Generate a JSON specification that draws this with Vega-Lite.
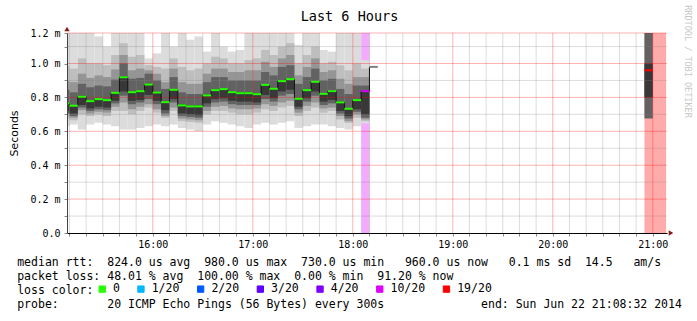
{
  "$schema": "https://vega.github.io/schema/vega-lite/v6.json",
  "width": 600,
  "height": 200,
  "autosize": "none",
  "padding": {"left": 67, "top": 33, "right": 30, "bottom": 88},
  "background": "white",
  "config": {"view": {"stroke": null}},
  "datasets": {
    "steps": [
      {"s":"2014-06-22T15:05:00Z","e":"2014-06-22T15:10:00Z","med":0.765,"loss":"0","lo1":0.63,"hi1":1.18,"lo2":0.675,"hi2":0.985,"lo3":0.70,"hi3":0.895,"lo4":0.705,"hi4":0.845,"lo5":0.72,"hi5":0.77},
      {"s":"2014-06-22T15:10:00Z","e":"2014-06-22T15:15:00Z","med":0.751,"loss":"0","lo1":0.64,"hi1":1.18,"lo2":0.665,"hi2":0.97,"lo3":0.68,"hi3":0.89,"lo4":0.69,"hi4":0.83,"lo5":0.705,"hi5":0.755},
      {"s":"2014-06-22T15:15:00Z","e":"2014-06-22T15:20:00Z","med":0.804,"loss":"0","lo1":0.61,"hi1":1.18,"lo2":0.70,"hi2":1.03,"lo3":0.725,"hi3":0.94,"lo4":0.74,"hi4":0.88,"lo5":0.755,"hi5":0.81},
      {"s":"2014-06-22T15:20:00Z","e":"2014-06-22T15:25:00Z","med":0.778,"loss":"0","lo1":0.64,"hi1":1.18,"lo2":0.69,"hi2":1.0,"lo3":0.705,"hi3":0.915,"lo4":0.72,"hi4":0.86,"lo5":0.735,"hi5":0.783},
      {"s":"2014-06-22T15:25:00Z","e":"2014-06-22T15:30:00Z","med":0.790,"loss":"0","lo1":0.65,"hi1":1.16,"lo2":0.70,"hi2":1.0,"lo3":0.715,"hi3":0.93,"lo4":0.73,"hi4":0.87,"lo5":0.745,"hi5":0.795},
      {"s":"2014-06-22T15:30:00Z","e":"2014-06-22T15:35:00Z","med":0.784,"loss":"0","lo1":0.64,"hi1":1.10,"lo2":0.69,"hi2":0.99,"lo3":0.71,"hi3":0.92,"lo4":0.725,"hi4":0.865,"lo5":0.74,"hi5":0.79},
      {"s":"2014-06-22T15:35:00Z","e":"2014-06-22T15:40:00Z","med":0.827,"loss":"0","lo1":0.63,"hi1":1.18,"lo2":0.72,"hi2":1.05,"lo3":0.745,"hi3":0.965,"lo4":0.765,"hi4":0.905,"lo5":0.78,"hi5":0.832},
      {"s":"2014-06-22T15:40:00Z","e":"2014-06-22T15:45:00Z","med":0.919,"loss":"0","lo1":0.61,"hi1":1.18,"lo2":0.72,"hi2":1.12,"lo3":0.77,"hi3":1.05,"lo4":0.81,"hi4":1.0,"lo5":0.835,"hi5":0.925},
      {"s":"2014-06-22T15:45:00Z","e":"2014-06-22T15:50:00Z","med":0.831,"loss":"0","lo1":0.61,"hi1":1.18,"lo2":0.70,"hi2":1.04,"lo3":0.73,"hi3":0.96,"lo4":0.76,"hi4":0.91,"lo5":0.78,"hi5":0.836},
      {"s":"2014-06-22T15:50:00Z","e":"2014-06-22T15:55:00Z","med":0.837,"loss":"0","lo1":0.62,"hi1":1.18,"lo2":0.72,"hi2":1.05,"lo3":0.745,"hi3":0.97,"lo4":0.77,"hi4":0.915,"lo5":0.785,"hi5":0.842},
      {"s":"2014-06-22T15:55:00Z","e":"2014-06-22T16:00:00Z","med":0.876,"loss":"0","lo1":0.63,"hi1":1.03,"lo2":0.74,"hi2":0.99,"lo3":0.76,"hi3":0.96,"lo4":0.79,"hi4":0.94,"lo5":0.815,"hi5":0.881},
      {"s":"2014-06-22T16:00:00Z","e":"2014-06-22T16:05:00Z","med":0.829,"loss":"0","lo1":0.64,"hi1":1.06,"lo2":0.71,"hi2":0.98,"lo3":0.73,"hi3":0.94,"lo4":0.76,"hi4":0.90,"lo5":0.78,"hi5":0.834},
      {"s":"2014-06-22T16:05:00Z","e":"2014-06-22T16:10:00Z","med":0.772,"loss":"0","lo1":0.63,"hi1":1.18,"lo2":0.68,"hi2":0.97,"lo3":0.69,"hi3":0.89,"lo4":0.705,"hi4":0.85,"lo5":0.725,"hi5":0.777},
      {"s":"2014-06-22T16:10:00Z","e":"2014-06-22T16:15:00Z","med":0.845,"loss":"0","lo1":0.64,"hi1":1.10,"lo2":0.72,"hi2":1.03,"lo3":0.74,"hi3":0.97,"lo4":0.77,"hi4":0.92,"lo5":0.79,"hi5":0.85},
      {"s":"2014-06-22T16:15:00Z","e":"2014-06-22T16:20:00Z","med":0.753,"loss":"0","lo1":0.62,"hi1":1.18,"lo2":0.66,"hi2":0.98,"lo3":0.675,"hi3":0.89,"lo4":0.69,"hi4":0.83,"lo5":0.705,"hi5":0.758},
      {"s":"2014-06-22T16:20:00Z","e":"2014-06-22T16:25:00Z","med":0.747,"loss":"0","lo1":0.61,"hi1":1.14,"lo2":0.655,"hi2":0.96,"lo3":0.67,"hi3":0.88,"lo4":0.685,"hi4":0.82,"lo5":0.70,"hi5":0.752},
      {"s":"2014-06-22T16:25:00Z","e":"2014-06-22T16:30:00Z","med":0.747,"loss":"0","lo1":0.60,"hi1":1.16,"lo2":0.65,"hi2":0.97,"lo3":0.665,"hi3":0.88,"lo4":0.68,"hi4":0.82,"lo5":0.695,"hi5":0.752},
      {"s":"2014-06-22T16:30:00Z","e":"2014-06-22T16:35:00Z","med":0.812,"loss":"0","lo1":0.64,"hi1":1.07,"lo2":0.70,"hi2":1.0,"lo3":0.72,"hi3":0.94,"lo4":0.745,"hi4":0.89,"lo5":0.765,"hi5":0.817},
      {"s":"2014-06-22T16:35:00Z","e":"2014-06-22T16:40:00Z","med":0.843,"loss":"0","lo1":0.66,"hi1":1.18,"lo2":0.72,"hi2":1.04,"lo3":0.745,"hi3":0.97,"lo4":0.77,"hi4":0.92,"lo5":0.79,"hi5":0.848},
      {"s":"2014-06-22T16:40:00Z","e":"2014-06-22T16:45:00Z","med":0.849,"loss":"0","lo1":0.65,"hi1":1.10,"lo2":0.72,"hi2":1.03,"lo3":0.75,"hi3":0.97,"lo4":0.775,"hi4":0.92,"lo5":0.795,"hi5":0.854},
      {"s":"2014-06-22T16:45:00Z","e":"2014-06-22T16:50:00Z","med":0.831,"loss":"0","lo1":0.64,"hi1":1.07,"lo2":0.71,"hi2":1.0,"lo3":0.735,"hi3":0.95,"lo4":0.76,"hi4":0.90,"lo5":0.78,"hi5":0.836},
      {"s":"2014-06-22T16:50:00Z","e":"2014-06-22T16:55:00Z","med":0.825,"loss":"0","lo1":0.63,"hi1":1.08,"lo2":0.70,"hi2":1.0,"lo3":0.73,"hi3":0.95,"lo4":0.755,"hi4":0.90,"lo5":0.775,"hi5":0.83},
      {"s":"2014-06-22T16:55:00Z","e":"2014-06-22T17:00:00Z","med":0.825,"loss":"0","lo1":0.62,"hi1":1.18,"lo2":0.70,"hi2":1.02,"lo3":0.73,"hi3":0.96,"lo4":0.755,"hi4":0.90,"lo5":0.775,"hi5":0.83},
      {"s":"2014-06-22T17:00:00Z","e":"2014-06-22T17:05:00Z","med":0.819,"loss":"0","lo1":0.64,"hi1":1.18,"lo2":0.71,"hi2":1.03,"lo3":0.735,"hi3":0.96,"lo4":0.755,"hi4":0.90,"lo5":0.77,"hi5":0.824},
      {"s":"2014-06-22T17:05:00Z","e":"2014-06-22T17:10:00Z","med":0.874,"loss":"0","lo1":0.65,"hi1":1.18,"lo2":0.73,"hi2":1.08,"lo3":0.76,"hi3":1.01,"lo4":0.79,"hi4":0.95,"lo5":0.815,"hi5":0.879},
      {"s":"2014-06-22T17:10:00Z","e":"2014-06-22T17:15:00Z","med":0.851,"loss":"0","lo1":0.64,"hi1":1.18,"lo2":0.72,"hi2":1.05,"lo3":0.75,"hi3":0.98,"lo4":0.775,"hi4":0.93,"lo5":0.795,"hi5":0.856},
      {"s":"2014-06-22T17:15:00Z","e":"2014-06-22T17:20:00Z","med":0.896,"loss":"0","lo1":0.65,"hi1":1.18,"lo2":0.74,"hi2":1.10,"lo3":0.77,"hi3":1.03,"lo4":0.81,"hi4":0.98,"lo5":0.835,"hi5":0.901},
      {"s":"2014-06-22T17:20:00Z","e":"2014-06-22T17:25:00Z","med":0.908,"loss":"0","lo1":0.66,"hi1":1.18,"lo2":0.75,"hi2":1.12,"lo3":0.78,"hi3":1.05,"lo4":0.82,"hi4":0.99,"lo5":0.845,"hi5":0.913},
      {"s":"2014-06-22T17:25:00Z","e":"2014-06-22T17:30:00Z","med":0.792,"loss":"0","lo1":0.62,"hi1":1.11,"lo2":0.69,"hi2":1.0,"lo3":0.71,"hi3":0.93,"lo4":0.73,"hi4":0.88,"lo5":0.745,"hi5":0.797},
      {"s":"2014-06-22T17:30:00Z","e":"2014-06-22T17:35:00Z","med":0.843,"loss":"0","lo1":0.63,"hi1":1.18,"lo2":0.72,"hi2":1.05,"lo3":0.75,"hi3":0.98,"lo4":0.775,"hi4":0.92,"lo5":0.795,"hi5":0.848},
      {"s":"2014-06-22T17:35:00Z","e":"2014-06-22T17:40:00Z","med":0.892,"loss":"0","lo1":0.64,"hi1":1.18,"lo2":0.74,"hi2":1.10,"lo3":0.77,"hi3":1.03,"lo4":0.81,"hi4":0.97,"lo5":0.835,"hi5":0.897},
      {"s":"2014-06-22T17:40:00Z","e":"2014-06-22T17:45:00Z","med":0.821,"loss":"0","lo1":0.64,"hi1":1.08,"lo2":0.71,"hi2":1.0,"lo3":0.735,"hi3":0.95,"lo4":0.755,"hi4":0.90,"lo5":0.775,"hi5":0.826},
      {"s":"2014-06-22T17:45:00Z","e":"2014-06-22T17:50:00Z","med":0.837,"loss":"0","lo1":0.63,"hi1":1.07,"lo2":0.72,"hi2":1.01,"lo3":0.74,"hi3":0.96,"lo4":0.765,"hi4":0.91,"lo5":0.785,"hi5":0.842},
      {"s":"2014-06-22T17:50:00Z","e":"2014-06-22T17:55:00Z","med":0.771,"loss":"0","lo1":0.62,"hi1":1.18,"lo2":0.67,"hi2":0.99,"lo3":0.69,"hi3":0.91,"lo4":0.705,"hi4":0.85,"lo5":0.72,"hi5":0.776},
      {"s":"2014-06-22T17:55:00Z","e":"2014-06-22T18:00:00Z","med":0.733,"loss":"0","lo1":0.61,"hi1":1.18,"lo2":0.65,"hi2":0.96,"lo3":0.66,"hi3":0.88,"lo4":0.675,"hi4":0.82,"lo5":0.69,"hi5":0.738},
      {"s":"2014-06-22T18:00:00Z","e":"2014-06-22T18:05:00Z","med":0.784,"loss":"0","lo1":0.63,"hi1":1.18,"lo2":0.68,"hi2":1.0,"lo3":0.70,"hi3":0.92,"lo4":0.715,"hi4":0.87,"lo5":0.73,"hi5":0.789},
      {"s":"2014-06-22T18:05:00Z","e":"2014-06-22T18:10:00Z","med":0.837,"loss":"10/20","lo1":0.647,"hi1":1.02,"lo2":0.66,"hi2":0.97,"lo3":0.67,"hi3":0.92,"lo4":0.68,"hi4":0.87,"lo5":0.70,"hi5":0.842},
      {"s":"2014-06-22T18:10:00Z","e":"2014-06-22T18:15:00Z","med":0.98,"loss":null},
      {"s":"2014-06-22T20:55:00Z","e":"2014-06-22T21:00:00Z","med":0.96,"loss":"19/20","lo4":0.676,"hi4":1.18,"lo5":0.80,"hi5":1.0},
      {"s":"2014-06-22T21:00:00Z","e":"2014-06-22T21:05:00Z","med":null,"loss":"19/20"},
      {"s":"2014-06-22T21:05:00Z","e":"2014-06-22T21:08:00Z","med":null,"loss":"19/20"}
    ],
    "hours": [
      {"t":"2014-06-22T16:00:00Z"},{"t":"2014-06-22T17:00:00Z"},{"t":"2014-06-22T18:00:00Z"},
      {"t":"2014-06-22T19:00:00Z"},{"t":"2014-06-22T20:00:00Z"},{"t":"2014-06-22T21:00:00Z"}
    ],
    "tenmin": [
      {"t":"2014-06-22T15:10:00Z"},{"t":"2014-06-22T15:20:00Z"},{"t":"2014-06-22T15:30:00Z"},{"t":"2014-06-22T15:40:00Z"},{"t":"2014-06-22T15:50:00Z"},
      {"t":"2014-06-22T16:10:00Z"},{"t":"2014-06-22T16:20:00Z"},{"t":"2014-06-22T16:30:00Z"},{"t":"2014-06-22T16:40:00Z"},{"t":"2014-06-22T16:50:00Z"},
      {"t":"2014-06-22T17:10:00Z"},{"t":"2014-06-22T17:20:00Z"},{"t":"2014-06-22T17:30:00Z"},{"t":"2014-06-22T17:40:00Z"},{"t":"2014-06-22T17:50:00Z"},
      {"t":"2014-06-22T18:10:00Z"},{"t":"2014-06-22T18:20:00Z"},{"t":"2014-06-22T18:30:00Z"},{"t":"2014-06-22T18:40:00Z"},{"t":"2014-06-22T18:50:00Z"},
      {"t":"2014-06-22T19:10:00Z"},{"t":"2014-06-22T19:20:00Z"},{"t":"2014-06-22T19:30:00Z"},{"t":"2014-06-22T19:40:00Z"},{"t":"2014-06-22T19:50:00Z"},
      {"t":"2014-06-22T20:10:00Z"},{"t":"2014-06-22T20:20:00Z"},{"t":"2014-06-22T20:30:00Z"},{"t":"2014-06-22T20:40:00Z"},{"t":"2014-06-22T20:50:00Z"}
    ],
    "ymajor": [{"v":0.2},{"v":0.4},{"v":0.6},{"v":0.8},{"v":1.0},{"v":1.18}],
    "yminor": [{"v":0.1},{"v":0.3},{"v":0.5},{"v":0.7},{"v":0.9},{"v":1.1}]
  },
  "data": {"name": "steps"},
  "resolve": {"axis": {"x": "independent", "y": "independent"}},
  "layer": [
    {
      "transform": [{"filter": "datum.loss != null && datum.loss != '0'"}],
      "mark": {"type": "rect", "opacity": 0.33, "clip": true},
      "encoding": {
        "x": {
          "field": "s",
          "type": "temporal",
          "scale": {"type": "utc", "domain": [{"year": 2014, "month": 6, "date": 22, "hours": 15, "minutes": 8, "seconds": 32, "utc": true}, {"year": 2014, "month": 6, "date": 22, "hours": 21, "minutes": 8, "seconds": 32, "utc": true}]},
          "axis": {
            "orient": "bottom",
            "values": [
              {"year":2014,"month":6,"date":22,"hours":15,"minutes":10,"utc":true},
              {"year":2014,"month":6,"date":22,"hours":15,"minutes":20,"utc":true},
              {"year":2014,"month":6,"date":22,"hours":15,"minutes":30,"utc":true},
              {"year":2014,"month":6,"date":22,"hours":15,"minutes":40,"utc":true},
              {"year":2014,"month":6,"date":22,"hours":15,"minutes":50,"utc":true},
              {"year":2014,"month":6,"date":22,"hours":16,"minutes":0,"utc":true},
              {"year":2014,"month":6,"date":22,"hours":16,"minutes":10,"utc":true},
              {"year":2014,"month":6,"date":22,"hours":16,"minutes":20,"utc":true},
              {"year":2014,"month":6,"date":22,"hours":16,"minutes":30,"utc":true},
              {"year":2014,"month":6,"date":22,"hours":16,"minutes":40,"utc":true},
              {"year":2014,"month":6,"date":22,"hours":16,"minutes":50,"utc":true},
              {"year":2014,"month":6,"date":22,"hours":17,"minutes":0,"utc":true},
              {"year":2014,"month":6,"date":22,"hours":17,"minutes":10,"utc":true},
              {"year":2014,"month":6,"date":22,"hours":17,"minutes":20,"utc":true},
              {"year":2014,"month":6,"date":22,"hours":17,"minutes":30,"utc":true},
              {"year":2014,"month":6,"date":22,"hours":17,"minutes":40,"utc":true},
              {"year":2014,"month":6,"date":22,"hours":17,"minutes":50,"utc":true},
              {"year":2014,"month":6,"date":22,"hours":18,"minutes":0,"utc":true},
              {"year":2014,"month":6,"date":22,"hours":18,"minutes":10,"utc":true},
              {"year":2014,"month":6,"date":22,"hours":18,"minutes":20,"utc":true},
              {"year":2014,"month":6,"date":22,"hours":18,"minutes":30,"utc":true},
              {"year":2014,"month":6,"date":22,"hours":18,"minutes":40,"utc":true},
              {"year":2014,"month":6,"date":22,"hours":18,"minutes":50,"utc":true},
              {"year":2014,"month":6,"date":22,"hours":19,"minutes":0,"utc":true},
              {"year":2014,"month":6,"date":22,"hours":19,"minutes":10,"utc":true},
              {"year":2014,"month":6,"date":22,"hours":19,"minutes":20,"utc":true},
              {"year":2014,"month":6,"date":22,"hours":19,"minutes":30,"utc":true},
              {"year":2014,"month":6,"date":22,"hours":19,"minutes":40,"utc":true},
              {"year":2014,"month":6,"date":22,"hours":19,"minutes":50,"utc":true},
              {"year":2014,"month":6,"date":22,"hours":20,"minutes":0,"utc":true},
              {"year":2014,"month":6,"date":22,"hours":20,"minutes":10,"utc":true},
              {"year":2014,"month":6,"date":22,"hours":20,"minutes":20,"utc":true},
              {"year":2014,"month":6,"date":22,"hours":20,"minutes":30,"utc":true},
              {"year":2014,"month":6,"date":22,"hours":20,"minutes":40,"utc":true},
              {"year":2014,"month":6,"date":22,"hours":20,"minutes":50,"utc":true},
              {"year":2014,"month":6,"date":22,"hours":21,"minutes":0,"utc":true}
            ],
            "labelExpr": "utcminutes(datum.value) === 0 ? utcFormat(datum.value, '%H:%M') : ''",
            "labelOverlap": false,
            "labelFlush": false,
            "labelBound": false,
            "labelFont": "DejaVu Sans Mono",
            "labelFontSize": 10,
            "labelColor": "#000000",
            "labelPadding": 3,
            "tickSize": 3,
            "tickColor": "#888888",
            "grid": false,
            "domainColor": "#000000",
            "domainWidth": 1,
            "title": [
              "median rtt:\u00a0\u00a0824.0 us avg\u00a0\u00a0980.0 us max\u00a0\u00a0730.0 us min\u00a0\u00a0\u00a0960.0 us now\u00a0\u00a0\u00a00.1 ms sd\u00a0\u00a014.5\u00a0\u00a0\u00a0am/s",
              "packet loss: 48.01 % avg\u00a0\u00a0100.00 % max\u00a0\u00a00.00 % min\u00a0\u00a091.20 % now",
              "loss color:",
              "probe:\u00a0\u00a0\u00a0\u00a0\u00a0\u00a0\u00a020 ICMP Echo Pings (56 Bytes) every 300s\u00a0\u00a0\u00a0\u00a0\u00a0\u00a0\u00a0\u00a0\u00a0\u00a0\u00a0\u00a0\u00a0\u00a0end: Sun Jun 22 21:08:32 2014"
            ],
            "titleFont": "DejaVu Sans Mono",
            "titleFontSize": 11.5,
            "titleFontWeight": "normal",
            "titleColor": "#000000",
            "titleAnchor": "start",
            "titleAlign": "left",
            "titleBaseline": "alphabetic",
            "titleX": -50.3,
            "titleY": 32,
            "titleLineHeight": 14,
            "zindex": 2
          }
        },
        "x2": {"field": "e"},
        "y": {"datum": 0, "type": "quantitative", "scale": {"domain": [0, 1.18], "nice": false}, "axis": null},
        "y2": {"datum": 1.18},
        "color": {
          "field": "loss",
          "type": "nominal",
          "scale": {"domain": ["0", "1/20", "2/20", "3/20", "4/20", "10/20", "19/20"], "range": ["#26ff00", "#00b8ff", "#0059ff", "#5e00ff", "#7e00ff", "#dd00ff", "#ff0000"]},
          "legend": {
            "orient": "none",
            "legendX": 29.5,
            "legendY": 250,
            "direction": "horizontal",
            "title": null,
            "padding": 0,
            "symbolType": "square",
            "symbolSize": 40,
            "symbolStrokeColor": "#000000",
            "symbolStrokeWidth": 1,
            "symbolOpacity": 1,
            "labelFont": "DejaVu Sans Mono",
            "labelFontSize": 11.5,
            "labelColor": "#000000",
            "labelOffset": 5,
            "columnPadding": 14.7,
            "labelExpr": "datum.label === '0' ? '\u00a00' : datum.label",
            "encode": {"symbols": {"update": {"stroke": {"value": "#000000"}, "strokeWidth": {"value": 1}, "opacity": {"value": 1}, "fillOpacity": {"value": 1}}}}
          }
        }
      }
    },
    {
      "mark": {"type": "rect", "color": "#dcdcdc", "clip": true},
      "encoding": {
        "x": {"field": "s", "type": "temporal", "axis": null},
        "x2": {"field": "e"},
        "y": {
          "field": "lo1",
          "type": "quantitative",
          "scale": {"domain": [0, 1.18], "nice": false},
          "axis": {
            "orient": "left",
            "values": [0, 0.1, 0.2, 0.3, 0.4, 0.5, 0.6, 0.7, 0.8, 0.9, 1.0, 1.1, 1.18],
            "labelExpr": "round(datum.value*10) % 2 === 0 ? (datum.value === 0 ? '0.0\u00a0\u00a0' : format(round(datum.value*10)/10, '.1f') + ' m') : ''",
            "labelOverlap": false,
            "labelFlush": false,
            "labelBound": false,
            "labelFont": "DejaVu Sans Mono",
            "labelFontSize": 10,
            "labelColor": "#000000",
            "labelPadding": 4,
            "tickSize": 3,
            "tickColor": "#888888",
            "grid": false,
            "domainColor": "#444444",
            "title": "Seconds",
            "titleFont": "DejaVu Sans",
            "titleFontSize": 11,
            "titleFontWeight": "normal",
            "titleColor": "#000000",
            "titleAngle": 270,
            "titleAlign": "center",
            "titleBaseline": "middle",
            "titleX": -53,
            "titleY": 100,
            "zindex": 2
          }
        },
        "y2": {"field": "hi1"}
      }
    },
    {
      "mark": {"type": "rect", "color": "#bebebe", "clip": true},
      "encoding": {"x": {"field": "s", "type": "temporal", "axis": null}, "x2": {"field": "e"}, "y": {"field": "lo2", "type": "quantitative", "axis": null}, "y2": {"field": "hi2"}}
    },
    {
      "mark": {"type": "rect", "color": "#959595", "clip": true},
      "encoding": {"x": {"field": "s", "type": "temporal", "axis": null}, "x2": {"field": "e"}, "y": {"field": "lo3", "type": "quantitative", "axis": null}, "y2": {"field": "hi3"}}
    },
    {
      "mark": {"type": "rect", "color": "#626262", "clip": true},
      "encoding": {"x": {"field": "s", "type": "temporal", "axis": null}, "x2": {"field": "e"}, "y": {"field": "lo4", "type": "quantitative", "axis": null}, "y2": {"field": "hi4"}}
    },
    {
      "mark": {"type": "rect", "color": "#383838", "clip": true},
      "encoding": {"x": {"field": "s", "type": "temporal", "axis": null}, "x2": {"field": "e"}, "y": {"field": "lo5", "type": "quantitative", "axis": null}, "y2": {"field": "hi5"}}
    },
    {
      "data": {"name": "tenmin"},
      "mark": {"type": "rule", "color": "#808080", "opacity": 0.28, "strokeWidth": 1},
      "encoding": {"x": {"field": "t", "type": "temporal", "axis": null}}
    },
    {
      "data": {"name": "yminor"},
      "mark": {"type": "rule", "color": "#808080", "opacity": 0.28, "strokeWidth": 1},
      "encoding": {"y": {"field": "v", "type": "quantitative", "axis": null}}
    },
    {
      "data": {"name": "hours"},
      "mark": {"type": "rule", "color": "#ff0000", "opacity": 0.3, "strokeWidth": 1},
      "encoding": {"x": {"field": "t", "type": "temporal", "axis": null}}
    },
    {
      "data": {"name": "ymajor"},
      "mark": {"type": "rule", "color": "#ff0000", "opacity": 0.3, "strokeWidth": 1},
      "encoding": {"y": {"field": "v", "type": "quantitative", "axis": null}}
    },
    {
      "transform": [{"filter": "datum.med != null && datum.loss != '19/20'"}],
      "mark": {"type": "line", "interpolate": "step-after", "color": "#111111", "strokeWidth": 1, "clip": true},
      "encoding": {"x": {"field": "s", "type": "temporal", "axis": null}, "y": {"field": "med", "type": "quantitative", "axis": null}}
    },
    {
      "transform": [{"filter": "datum.med != null"}],
      "mark": {"type": "rule", "strokeWidth": 2, "clip": true},
      "encoding": {
        "x": {"field": "s", "type": "temporal", "axis": null},
        "x2": {"field": "e"},
        "y": {"field": "med", "type": "quantitative", "axis": null},
        "color": {"condition": {"test": "datum.loss == null", "value": "#808080"}, "field": "loss", "type": "nominal", "legend": null}
      }
    },
    {
      "data": {"values": [{}]},
      "mark": {"type": "point", "shape": "triangle-up", "filled": true, "size": 28, "color": "#8b1a1a", "opacity": 1, "yOffset": -4},
      "encoding": {
        "x": {
          "datum": {"year": 2014, "month": 6, "date": 22, "hours": 15, "minutes": 8, "seconds": 32, "utc": true},
          "type": "temporal",
          "axis": {
            "orient": "top",
            "domain": false,
            "ticks": false,
            "labels": false,
            "grid": false,
            "title": "Last 6 Hours",
            "titleFont": "DejaVu Sans Mono",
            "titleFontSize": 13.5,
            "titleFontWeight": "normal",
            "titleColor": "#000000",
            "titleAngle": 0,
            "titleAlign": "center",
            "titleBaseline": "middle",
            "titleX": 282,
            "titleY": -17
          }
        },
        "y": {
          "datum": 1.18,
          "type": "quantitative",
          "axis": {
            "orient": "right",
            "domain": false,
            "ticks": false,
            "labels": false,
            "grid": false,
            "title": "RRDTOOL / TOBI OETIKER",
            "titleAngle": 90,
            "titleFont": "DejaVu Sans Mono",
            "titleFontSize": 8.5,
            "titleFontWeight": "normal",
            "titleColor": "#c8c8c8",
            "titleAlign": "center",
            "titleBaseline": "middle",
            "titleX": 20,
            "titleY": 28
          }
        }
      }
    },
    {
      "data": {"values": [{}]},
      "mark": {"type": "point", "shape": "triangle-right", "filled": true, "size": 28, "color": "#8b1a1a", "opacity": 1, "xOffset": 4},
      "encoding": {
        "x": {"datum": {"year": 2014, "month": 6, "date": 22, "hours": 21, "minutes": 8, "seconds": 32, "utc": true}, "type": "temporal", "axis": null},
        "y": {"datum": 0, "type": "quantitative", "axis": null}
      }
    }
  ]
}
